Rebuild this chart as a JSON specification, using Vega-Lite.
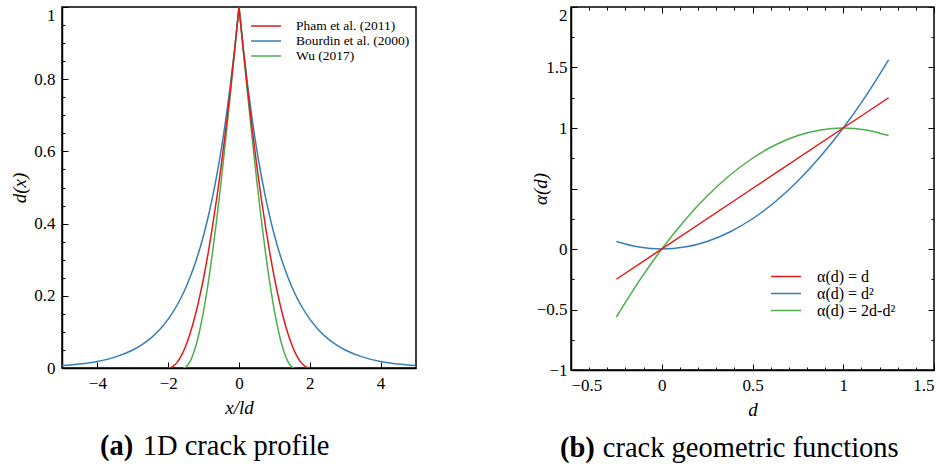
{
  "$schema": "https://vega.github.io/schema/vega-lite/v6.json",
  "padding": {"left": 10, "top": 5, "right": 5, "bottom": 0},
  "background": "white",
  "config": {
    "font": "Liberation Serif",
    "view": {"stroke": "black", "strokeWidth": 1.5},
    "axis": {
      "grid": false,
      "domainColor": "black",
      "domainWidth": 1.5,
      "tickColor": "black",
      "tickWidth": 1,
      "tickSize": -6,
      "labelColor": "black",
      "labelFont": "Liberation Serif",
      "labelFontSize": 17,
      "titleFont": "Liberation Serif",
      "titleFontSize": 19,
      "titleFontStyle": "italic",
      "titleFontWeight": "normal",
      "titleColor": "black"
    },
    "legend": {
      "labelFont": "Liberation Serif",
      "labelColor": "black",
      "padding": 0
    },
    "title": {
      "font": "Liberation Serif",
      "color": "black",
      "subtitleFont": "Liberation Serif",
      "subtitleColor": "black"
    }
  },
  "datasets": {
    "L": [
      {"s": "Bourdin et al. (2000)", "h": "R", "x": 0, "y": 1},
      {"s": "Bourdin et al. (2000)", "h": "R", "x": 0.125, "y": 0.8825},
      {"s": "Bourdin et al. (2000)", "h": "R", "x": 0.25, "y": 0.7788},
      {"s": "Bourdin et al. (2000)", "h": "R", "x": 0.375, "y": 0.6873},
      {"s": "Bourdin et al. (2000)", "h": "R", "x": 0.5, "y": 0.6065},
      {"s": "Bourdin et al. (2000)", "h": "R", "x": 0.625, "y": 0.5353},
      {"s": "Bourdin et al. (2000)", "h": "R", "x": 0.75, "y": 0.4724},
      {"s": "Bourdin et al. (2000)", "h": "R", "x": 0.875, "y": 0.4169},
      {"s": "Bourdin et al. (2000)", "h": "R", "x": 1, "y": 0.3679},
      {"s": "Bourdin et al. (2000)", "h": "R", "x": 1.25, "y": 0.2865},
      {"s": "Bourdin et al. (2000)", "h": "R", "x": 1.5, "y": 0.2231},
      {"s": "Bourdin et al. (2000)", "h": "R", "x": 1.75, "y": 0.1738},
      {"s": "Bourdin et al. (2000)", "h": "R", "x": 2, "y": 0.1353},
      {"s": "Bourdin et al. (2000)", "h": "R", "x": 2.25, "y": 0.1054},
      {"s": "Bourdin et al. (2000)", "h": "R", "x": 2.5, "y": 0.0821},
      {"s": "Bourdin et al. (2000)", "h": "R", "x": 2.75, "y": 0.0639},
      {"s": "Bourdin et al. (2000)", "h": "R", "x": 3, "y": 0.0498},
      {"s": "Bourdin et al. (2000)", "h": "R", "x": 3.5, "y": 0.0302},
      {"s": "Bourdin et al. (2000)", "h": "R", "x": 4, "y": 0.0183},
      {"s": "Bourdin et al. (2000)", "h": "R", "x": 4.5, "y": 0.0111},
      {"s": "Bourdin et al. (2000)", "h": "R", "x": 5, "y": 0.0067},
      {"s": "Bourdin et al. (2000)", "h": "L", "x": 0, "y": 1},
      {"s": "Bourdin et al. (2000)", "h": "L", "x": -0.125, "y": 0.8825},
      {"s": "Bourdin et al. (2000)", "h": "L", "x": -0.25, "y": 0.7788},
      {"s": "Bourdin et al. (2000)", "h": "L", "x": -0.375, "y": 0.6873},
      {"s": "Bourdin et al. (2000)", "h": "L", "x": -0.5, "y": 0.6065},
      {"s": "Bourdin et al. (2000)", "h": "L", "x": -0.625, "y": 0.5353},
      {"s": "Bourdin et al. (2000)", "h": "L", "x": -0.75, "y": 0.4724},
      {"s": "Bourdin et al. (2000)", "h": "L", "x": -0.875, "y": 0.4169},
      {"s": "Bourdin et al. (2000)", "h": "L", "x": -1, "y": 0.3679},
      {"s": "Bourdin et al. (2000)", "h": "L", "x": -1.25, "y": 0.2865},
      {"s": "Bourdin et al. (2000)", "h": "L", "x": -1.5, "y": 0.2231},
      {"s": "Bourdin et al. (2000)", "h": "L", "x": -1.75, "y": 0.1738},
      {"s": "Bourdin et al. (2000)", "h": "L", "x": -2, "y": 0.1353},
      {"s": "Bourdin et al. (2000)", "h": "L", "x": -2.25, "y": 0.1054},
      {"s": "Bourdin et al. (2000)", "h": "L", "x": -2.5, "y": 0.0821},
      {"s": "Bourdin et al. (2000)", "h": "L", "x": -2.75, "y": 0.0639},
      {"s": "Bourdin et al. (2000)", "h": "L", "x": -3, "y": 0.0498},
      {"s": "Bourdin et al. (2000)", "h": "L", "x": -3.5, "y": 0.0302},
      {"s": "Bourdin et al. (2000)", "h": "L", "x": -4, "y": 0.0183},
      {"s": "Bourdin et al. (2000)", "h": "L", "x": -4.5, "y": 0.0111},
      {"s": "Bourdin et al. (2000)", "h": "L", "x": -5, "y": 0.0067},
      {"s": "Wu (2017)", "h": "R", "x": 0, "y": 1},
      {"s": "Wu (2017)", "h": "R", "x": 0.125, "y": 0.8753},
      {"s": "Wu (2017)", "h": "R", "x": 0.25, "y": 0.7526},
      {"s": "Wu (2017)", "h": "R", "x": 0.375, "y": 0.6337},
      {"s": "Wu (2017)", "h": "R", "x": 0.5, "y": 0.5206},
      {"s": "Wu (2017)", "h": "R", "x": 0.625, "y": 0.4149},
      {"s": "Wu (2017)", "h": "R", "x": 0.75, "y": 0.3184},
      {"s": "Wu (2017)", "h": "R", "x": 0.875, "y": 0.2325},
      {"s": "Wu (2017)", "h": "R", "x": 1, "y": 0.1585},
      {"s": "Wu (2017)", "h": "R", "x": 1.125, "y": 0.0977},
      {"s": "Wu (2017)", "h": "R", "x": 1.25, "y": 0.051},
      {"s": "Wu (2017)", "h": "R", "x": 1.375, "y": 0.0191},
      {"s": "Wu (2017)", "h": "R", "x": 1.5, "y": 0.0025},
      {"s": "Wu (2017)", "h": "R", "x": 1.5708, "y": 0},
      {"s": "Wu (2017)", "h": "L", "x": 0, "y": 1},
      {"s": "Wu (2017)", "h": "L", "x": -0.125, "y": 0.8753},
      {"s": "Wu (2017)", "h": "L", "x": -0.25, "y": 0.7526},
      {"s": "Wu (2017)", "h": "L", "x": -0.375, "y": 0.6337},
      {"s": "Wu (2017)", "h": "L", "x": -0.5, "y": 0.5206},
      {"s": "Wu (2017)", "h": "L", "x": -0.625, "y": 0.4149},
      {"s": "Wu (2017)", "h": "L", "x": -0.75, "y": 0.3184},
      {"s": "Wu (2017)", "h": "L", "x": -0.875, "y": 0.2325},
      {"s": "Wu (2017)", "h": "L", "x": -1, "y": 0.1585},
      {"s": "Wu (2017)", "h": "L", "x": -1.125, "y": 0.0977},
      {"s": "Wu (2017)", "h": "L", "x": -1.25, "y": 0.051},
      {"s": "Wu (2017)", "h": "L", "x": -1.375, "y": 0.0191},
      {"s": "Wu (2017)", "h": "L", "x": -1.5, "y": 0.0025},
      {"s": "Wu (2017)", "h": "L", "x": -1.5708, "y": 0},
      {"s": "Pham et al. (2011)", "h": "R", "x": 0, "y": 1},
      {"s": "Pham et al. (2011)", "h": "R", "x": 0.125, "y": 0.8789},
      {"s": "Pham et al. (2011)", "h": "R", "x": 0.25, "y": 0.7656},
      {"s": "Pham et al. (2011)", "h": "R", "x": 0.375, "y": 0.6602},
      {"s": "Pham et al. (2011)", "h": "R", "x": 0.5, "y": 0.5625},
      {"s": "Pham et al. (2011)", "h": "R", "x": 0.625, "y": 0.4727},
      {"s": "Pham et al. (2011)", "h": "R", "x": 0.75, "y": 0.3906},
      {"s": "Pham et al. (2011)", "h": "R", "x": 0.875, "y": 0.3164},
      {"s": "Pham et al. (2011)", "h": "R", "x": 1, "y": 0.25},
      {"s": "Pham et al. (2011)", "h": "R", "x": 1.125, "y": 0.1914},
      {"s": "Pham et al. (2011)", "h": "R", "x": 1.25, "y": 0.1406},
      {"s": "Pham et al. (2011)", "h": "R", "x": 1.375, "y": 0.0977},
      {"s": "Pham et al. (2011)", "h": "R", "x": 1.5, "y": 0.0625},
      {"s": "Pham et al. (2011)", "h": "R", "x": 1.625, "y": 0.0352},
      {"s": "Pham et al. (2011)", "h": "R", "x": 1.75, "y": 0.0156},
      {"s": "Pham et al. (2011)", "h": "R", "x": 1.875, "y": 0.0039},
      {"s": "Pham et al. (2011)", "h": "R", "x": 2, "y": 0},
      {"s": "Pham et al. (2011)", "h": "L", "x": 0, "y": 1},
      {"s": "Pham et al. (2011)", "h": "L", "x": -0.125, "y": 0.8789},
      {"s": "Pham et al. (2011)", "h": "L", "x": -0.25, "y": 0.7656},
      {"s": "Pham et al. (2011)", "h": "L", "x": -0.375, "y": 0.6602},
      {"s": "Pham et al. (2011)", "h": "L", "x": -0.5, "y": 0.5625},
      {"s": "Pham et al. (2011)", "h": "L", "x": -0.625, "y": 0.4727},
      {"s": "Pham et al. (2011)", "h": "L", "x": -0.75, "y": 0.3906},
      {"s": "Pham et al. (2011)", "h": "L", "x": -0.875, "y": 0.3164},
      {"s": "Pham et al. (2011)", "h": "L", "x": -1, "y": 0.25},
      {"s": "Pham et al. (2011)", "h": "L", "x": -1.125, "y": 0.1914},
      {"s": "Pham et al. (2011)", "h": "L", "x": -1.25, "y": 0.1406},
      {"s": "Pham et al. (2011)", "h": "L", "x": -1.375, "y": 0.0977},
      {"s": "Pham et al. (2011)", "h": "L", "x": -1.5, "y": 0.0625},
      {"s": "Pham et al. (2011)", "h": "L", "x": -1.625, "y": 0.0352},
      {"s": "Pham et al. (2011)", "h": "L", "x": -1.75, "y": 0.0156},
      {"s": "Pham et al. (2011)", "h": "L", "x": -1.875, "y": 0.0039},
      {"s": "Pham et al. (2011)", "h": "L", "x": -2, "y": 0}
    ],
    "R": [
      {"s": "α(d) = 2d-d²", "d": -0.25, "a": -0.5625},
      {"s": "α(d) = 2d-d²", "d": -0.125, "a": -0.2656},
      {"s": "α(d) = 2d-d²", "d": 0, "a": 0},
      {"s": "α(d) = 2d-d²", "d": 0.125, "a": 0.2344},
      {"s": "α(d) = 2d-d²", "d": 0.25, "a": 0.4375},
      {"s": "α(d) = 2d-d²", "d": 0.375, "a": 0.6094},
      {"s": "α(d) = 2d-d²", "d": 0.5, "a": 0.75},
      {"s": "α(d) = 2d-d²", "d": 0.625, "a": 0.8594},
      {"s": "α(d) = 2d-d²", "d": 0.75, "a": 0.9375},
      {"s": "α(d) = 2d-d²", "d": 0.875, "a": 0.9844},
      {"s": "α(d) = 2d-d²", "d": 1, "a": 1},
      {"s": "α(d) = 2d-d²", "d": 1.125, "a": 0.9844},
      {"s": "α(d) = 2d-d²", "d": 1.25, "a": 0.9375},
      {"s": "α(d) = d²", "d": -0.25, "a": 0.0625},
      {"s": "α(d) = d²", "d": -0.125, "a": 0.0156},
      {"s": "α(d) = d²", "d": 0, "a": 0},
      {"s": "α(d) = d²", "d": 0.125, "a": 0.0156},
      {"s": "α(d) = d²", "d": 0.25, "a": 0.0625},
      {"s": "α(d) = d²", "d": 0.375, "a": 0.1406},
      {"s": "α(d) = d²", "d": 0.5, "a": 0.25},
      {"s": "α(d) = d²", "d": 0.625, "a": 0.3906},
      {"s": "α(d) = d²", "d": 0.75, "a": 0.5625},
      {"s": "α(d) = d²", "d": 0.875, "a": 0.7656},
      {"s": "α(d) = d²", "d": 1, "a": 1},
      {"s": "α(d) = d²", "d": 1.125, "a": 1.2656},
      {"s": "α(d) = d²", "d": 1.25, "a": 1.5625},
      {"s": "α(d) = d", "d": -0.25, "a": -0.25},
      {"s": "α(d) = d", "d": 0.5, "a": 0.5},
      {"s": "α(d) = d", "d": 1.25, "a": 1.25}
    ]
  },
  "bounds": "flush",
  "spacing": 155,
  "resolve": {
    "scale": {"x": "independent", "y": "independent", "color": "independent"},
    "legend": {"color": "independent"}
  },
  "hconcat": [
    {
      "width": 354,
      "height": 361,
      "data": {"name": "L"},
      "title": {
        "text": "(a)",
        "subtitle": "\u200b\u00a0\u00a0\u00a0\u00a0\u00a0\u00a01D crack profile",
        "orient": "bottom",
        "anchor": "start",
        "frame": "group",
        "dx": 38,
        "offset": 15,
        "font": "Liberation Serif",
        "subtitleFont": "Liberation Serif",
        "fontSize": 28.5,
        "fontWeight": "bold",
        "subtitleFontSize": 28.5,
        "subtitleFontWeight": "normal",
        "subtitlePadding": -28.5
      },
      "mark": {"type": "line", "strokeWidth": 1.5, "interpolate": "monotone", "clip": true},
      "encoding": {
        "x": {
          "field": "x", "type": "quantitative",
          "scale": {"domain": [-5, 5], "nice": false, "zero": false},
          "axis": {"values": [-4, -2, 0, 2, 4], "format": "~g", "title": "x/ld", "labelPadding": 13, "titlePadding": 7}
        },
        "y": {
          "field": "y", "type": "quantitative",
          "scale": {"domain": [0, 1], "nice": false},
          "axis": {
            "values": [0, 0.05, 0.1, 0.15, 0.2, 0.25, 0.3, 0.35, 0.4, 0.45, 0.5, 0.55, 0.6, 0.65, 0.7, 0.75, 0.8, 0.85, 0.9, 0.95, 1],
            "format": "~g",
            "labelExpr": "abs(datum.value*5 - round(datum.value*5)) < 0.001 ? datum.label : ''",
            "labelBaseline": {"condition": {"test": "datum.value == 1", "value": "top"}, "value": "middle"},
            "tickDash": {"condition": {"test": "abs(datum.value*5 - round(datum.value*5)) > 0.001", "value": [3, 30]}, "value": [10, 0]},
            "title": "d(x)",
            "labelPadding": 13,
            "titlePadding": 4
          }
        },
        "color": {
          "field": "s", "type": "nominal",
          "scale": {"domain": ["Pham et al. (2011)", "Bourdin et al. (2000)", "Wu (2017)"], "range": ["#e31a1c", "#377eb8", "#4daf4a"]},
          "legend": {
            "title": null, "orient": "none", "legendX": 188, "legendY": 11.5,
            "symbolType": "stroke", "symbolSize": 900, "symbolStrokeWidth": 1.5,
            "clipHeight": 15,
            "labelFontSize": 13.5, "labelOffset": 14, "rowPadding": 0
          }
        },
        "detail": {"field": "h"}
      }
    },
    {
      "width": 363,
      "height": 363,
      "data": {"name": "R"},
      "title": {
        "text": "(b)",
        "subtitle": "\u200b\u00a0\u00a0\u00a0\u00a0\u00a0\u00a0crack geometric functions",
        "orient": "bottom",
        "anchor": "start",
        "frame": "group",
        "dx": -11,
        "offset": 15,
        "font": "Liberation Serif",
        "subtitleFont": "Liberation Serif",
        "fontSize": 28.5,
        "fontWeight": "bold",
        "subtitleFontSize": 28.5,
        "subtitleFontWeight": "normal",
        "subtitlePadding": -28.5
      },
      "layer": [
        {
          "mark": {"type": "line", "strokeWidth": 1.5, "interpolate": "monotone", "clip": true},
          "encoding": {
            "x": {
              "field": "d", "type": "quantitative",
              "scale": {"domain": [-0.5, 1.5], "nice": false, "zero": false},
              "axis": {
                "orient": "bottom",
                "values": [-0.5, -0.4, -0.3, -0.2, -0.1, 0, 0.1, 0.2, 0.3, 0.4, 0.5, 0.6, 0.7, 0.8, 0.9, 1, 1.1, 1.2, 1.3, 1.4, 1.5],
                "format": "~g",
                "labelExpr": "abs(datum.value*2 - round(datum.value*2)) < 0.001 ? datum.label : ''",
                "tickDash": {"condition": {"test": "abs(datum.value*2 - round(datum.value*2)) > 0.001", "value": [3, 30]}, "value": [10, 0]},
                "title": "d", "labelPadding": 13, "titlePadding": 7
              }
            },
            "y": {
              "field": "a", "type": "quantitative",
              "scale": {"domain": [-1, 2], "nice": false, "zero": false},
              "axis": {
                "orient": "left",
                "values": [-1, -0.75, -0.5, -0.25, 0, 0.25, 0.5, 0.75, 1, 1.25, 1.5, 1.75, 2],
                "format": "~g",
                "labelExpr": "(abs(datum.value*2 - round(datum.value*2)) < 0.001 && datum.value != 0.5) ? datum.label : ''",
                "labelBaseline": {"condition": {"test": "datum.value == 2", "value": "top"}, "value": "middle"},
                "tickDash": {"condition": {"test": "abs(datum.value*2 - round(datum.value*2)) > 0.001", "value": [3, 30]}, "value": [10, 0]},
                "title": "α(d)", "labelPadding": 10, "titlePadding": -14
              }
            },
            "color": {
              "field": "s", "type": "nominal",
              "scale": {"domain": ["α(d) = d", "α(d) = d²", "α(d) = 2d-d²"], "range": ["#e31a1c", "#377eb8", "#4daf4a"]},
              "legend": {
                "title": null, "orient": "none", "legendX": 199, "legendY": 262,
                "symbolType": "stroke", "symbolSize": 900, "symbolStrokeWidth": 1.5,
                "clipHeight": 15,
                "labelFontSize": 16, "labelOffset": 15, "rowPadding": 0
              }
            }
          }
        },
        {
          "mark": {"type": "line", "opacity": 0},
          "encoding": {
            "x": {
              "field": "d", "type": "quantitative",
              "axis": {
                "orient": "top", "labels": false, "title": null, "domain": false,
                "values": [-0.5, -0.4, -0.3, -0.2, -0.1, 0, 0.1, 0.2, 0.3, 0.4, 0.5, 0.6, 0.7, 0.8, 0.9, 1, 1.1, 1.2, 1.3, 1.4, 1.5],
                "tickDash": {"condition": {"test": "abs(datum.value*2 - round(datum.value*2)) > 0.001", "value": [3, 30]}, "value": [10, 0]}
              }
            },
            "y": {
              "field": "a", "type": "quantitative",
              "axis": {
                "orient": "right", "labels": false, "title": null, "domain": false,
                "values": [-1, -0.75, -0.5, -0.25, 0, 0.25, 0.5, 0.75, 1, 1.25, 1.5, 1.75, 2],
                "tickDash": {"condition": {"test": "abs(datum.value*2 - round(datum.value*2)) > 0.001", "value": [3, 30]}, "value": [10, 0]}
              }
            }
          }
        }
      ],
      "resolve": {"axis": {"x": "independent", "y": "independent"}}
    }
  ]
}
